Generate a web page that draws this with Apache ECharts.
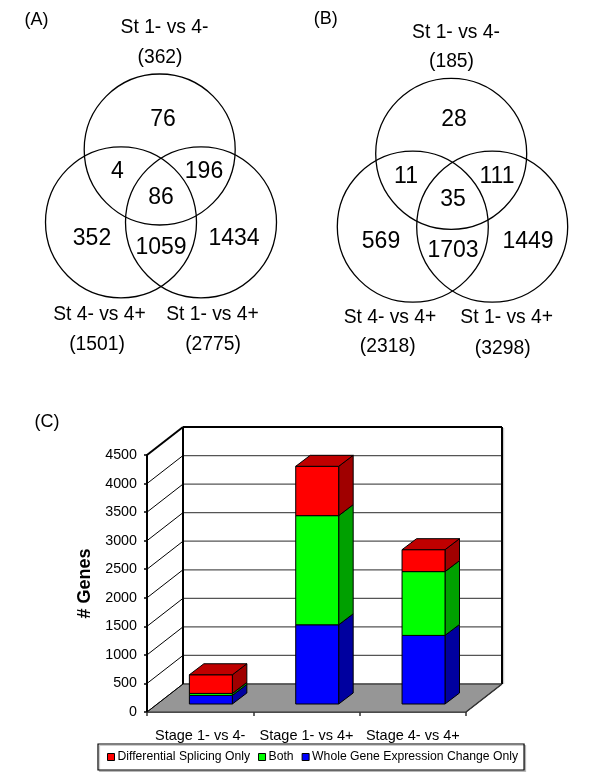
<!DOCTYPE html>
<html>
<head>
<meta charset="utf-8">
<style>html,body{margin:0;padding:0;background:#fff}#main{width:600px;height:780px}</style>
<script src="https://cdn.jsdelivr.net/npm/echarts@6/dist/echarts.min.js"></script>
</head>
<body>
<div id="main"></div>
<script>
// stacked chart (C)
var categories = ['Stage 1- vs 4-', 'Stage 1- vs 4+', 'Stage 4- vs 4+'];
var wholeGene = [150, 1387, 1201];
var both = [35, 1911, 1117];
var splicing = [327, 864, 384];
var yTicks = [0, 500, 1000, 1500, 2000, 2500, 3000, 3500, 4000, 4500];

// venn panels (A) and (B)
var setNames = ['St 1- vs 4-', 'St 4- vs 4+', 'St 1- vs 4+'];
var totalsA = ['(362)', '(1501)', '(2775)'];
var totalsB = ['(185)', '(2318)', '(3298)'];
var regionsA = [76, 4, 196, 86, 352, 1059, 1434];
var regionsB = [28, 11, 111, 35, 569, 1703, 1449];

var FONT = '"Liberation Sans", Arial, sans-serif';

// pixel layout of the venn panels, in the page-sized hidden grid
var circlesA = [[159.7, 149.5], [121, 222.3], [201, 222.3]];
var circlesB = [[451.2, 153.8], [412.8, 226.7], [492.2, 226.7]];
var regionPosA = [[163, 120], [117.5, 172], [204, 172], [161, 197.5], [92, 238.5], [161, 247.5], [234, 238.5]];
var regionPosB = [[454, 120], [406, 177], [497, 177], [453, 200], [381, 242], [453, 250.7], [528, 242]];
var namePosA = [[164.5, 28], [99.5, 315], [212.5, 315]];
var namePosB = [[456, 33], [390, 317.7], [506.7, 317.7]];
var totalPosA = [[160, 58], [97, 345], [213, 345]];
var totalPosB = [[451.5, 62], [387.7, 346.7], [502.7, 348.3]];

var texts = [];
function addTexts(list, pos, size) {
    list.forEach(function (t, i) {
        texts.push({x: pos[i][0], y: pos[i][1], text: String(t), size: size});
    });
}
addTexts(regionsA, regionPosA, 23);
addTexts(regionsB, regionPosB, 23);
addTexts(setNames, namePosA, 19.3);
addTexts(setNames, namePosB, 19.3);
addTexts(totalsA, totalPosA, 19.3);
addTexts(totalsB, totalPosB, 19.3);
addTexts(['(A)', '(B)', '(C)'], [[36.5, 20], [325.8, 19], [47, 422]], 18);

// 3d look of the chart
var WALL_DX = 36, WALL_DY = -28;
var FLOOR_DX = 10.7, FLOOR_DY = -8;
var SIDE_DX = 14.5, SIDE_DY = -11;
var BAR_SHARE = 0.404;

function poly(points, fill, stroke) {
    return {
        type: 'polygon',
        shape: {points: points},
        style: {fill: fill, stroke: stroke || '#000', lineWidth: 1}
    };
}
function line(x1, y1, x2, y2, color, width) {
    return {
        type: 'line',
        shape: {x1: x1, y1: y1, x2: x2, y2: y2},
        style: {stroke: color, lineWidth: width}
    };
}

function barRenderer(front, side, top, isTop) {
    return function (params, api) {
        var c0 = api.coord([api.value(0), api.value(1)]);
        var c1 = api.coord([api.value(0), api.value(2)]);
        var w = api.size([1, 0])[0] * BAR_SHARE;
        var x0 = c0[0] - w / 2 + FLOOR_DX, x1 = x0 + w;
        var y0 = c0[1] + FLOOR_DY, y1 = c1[1] + FLOOR_DY;
        var kids = [
            poly([[x1, y0], [x1 + SIDE_DX, y0 + SIDE_DY], [x1 + SIDE_DX, y1 + SIDE_DY], [x1, y1]], side),
            poly([[x0, y0], [x1, y0], [x1, y1], [x0, y1]], front)
        ];
        if (isTop) {
            kids.push(poly([[x0, y1], [x1, y1], [x1 + SIDE_DX, y1 + SIDE_DY], [x0 + SIDE_DX, y1 + SIDE_DY]], top));
        }
        return {type: 'group', children: kids};
    };
}

function stackData(values, lows) {
    return values.map(function (v, i) {
        return [i, lows[i], lows[i] + v];
    });
}
var bothLow = wholeGene;
var splicingLow = wholeGene.map(function (v, i) { return v + both[i]; });
var zeros = wholeGene.map(function () { return 0; });

function barSeries(name, data, front, side, top, isTop) {
    return {
        name: name,
        type: 'custom',
        coordinateSystem: 'cartesian2d',
        xAxisIndex: 0,
        yAxisIndex: 0,
        clip: false,
        silent: true,
        z: 4,
        itemStyle: {color: front},
        encode: {x: 0, y: [1, 2]},
        data: data,
        renderItem: barRenderer(front, side, top, isTop)
    };
}

var chart = echarts.init(document.getElementById('main'), null, {renderer: 'canvas'});
chart.setOption({
    animation: false,
    backgroundColor: '#fff',
    legend: {
        data: ['Differential Splicing Only', 'Both', 'Whole Gene Expression Change Only'],
        left: 98,
        top: 744,
        padding: [7, 6, 7, 9],
        itemWidth: 7,
        itemHeight: 7,
        itemGap: 8,
        icon: 'rect',
        selectedMode: false,
        backgroundColor: '#fff',
        borderColor: '#000',
        borderWidth: 1.2,
        shadowColor: 'rgba(0,0,0,0.2)',
        shadowOffsetX: 1.5,
        shadowOffsetY: 1.5,
        itemStyle: {borderColor: '#000', borderWidth: 1},
        textStyle: {fontFamily: FONT, fontSize: 12.2, color: '#000', padding: [0, 0, 0, -2]}
    },
    grid: [
        {left: 147, top: 455, width: 319, height: 257},
        {left: 0, top: 0, width: 600, height: 780, show: false}
    ],
    xAxis: [
        {
            type: 'category',
            gridIndex: 0,
            data: categories,
            axisLine: {lineStyle: {color: '#333', width: 1.5}},
            axisTick: {show: true, length: 4, lineStyle: {color: '#333', width: 1.5}},
            axisLabel: {fontFamily: FONT, fontSize: 14.5, color: '#000', margin: 16, interval: 0},
            splitLine: {show: false}
        },
        {type: 'value', gridIndex: 1, min: 0, max: 600, show: false}
    ],
    yAxis: [
        {
            type: 'value',
            gridIndex: 0,
            min: 0,
            max: 4500,
            interval: 500,
            name: '# Genes',
            nameLocation: 'middle',
            nameRotate: 90,
            nameGap: 53,
            nameTextStyle: {fontFamily: FONT, fontSize: 18, fontWeight: 'bold', color: '#000'},
            axisLine: {show: true, lineStyle: {color: '#000', width: 2}},
            axisTick: {show: true, length: 3, lineStyle: {color: '#000', width: 1.5}},
            axisLabel: {
                fontFamily: FONT,
                fontSize: 14.3,
                color: '#000',
                margin: 10,
                padding: [5, 0, 0, 0],
                formatter: function (v) { return String(v); }
            },
            splitLine: {show: false}
        },
        {type: 'value', gridIndex: 1, min: 0, max: 780, inverse: true, show: false}
    ],
    series: [
        {
            // floor
            type: 'custom',
            xAxisIndex: 0,
            yAxisIndex: 0,
            clip: false,
            silent: true,
            z: 1,
            data: [[0, 0]],
            renderItem: function (params, api) {
                var s = params.coordSys;
                var bottom = api.coord([0, 0])[1];
                return poly([
                    [s.x, bottom],
                    [s.x + s.width, bottom],
                    [s.x + s.width + WALL_DX, bottom + WALL_DY],
                    [s.x + WALL_DX, bottom + WALL_DY]
                ], '#969696', '#333');
            }
        },
        {
            // side wall diagonals and back wall gridlines
            type: 'custom',
            xAxisIndex: 0,
            yAxisIndex: 0,
            clip: false,
            silent: true,
            z: 2,
            data: yTicks.map(function (t) { return [0, t]; }),
            renderItem: function (params, api) {
                var s = params.coordSys;
                var y = api.coord([0, api.value(1)])[1];
                var last = params.dataIndex === yTicks.length - 1;
                var bx = s.x + WALL_DX, by = y + WALL_DY;
                return {
                    type: 'group',
                    children: [
                        line(s.x, y, bx, by, '#000', last ? 2 : 1),
                        line(bx, by, bx + s.width, by, last ? '#000' : '#555', last ? 2 : 1.3)
                    ]
                };
            }
        },
        {
            // back wall verticals
            type: 'custom',
            xAxisIndex: 0,
            yAxisIndex: 0,
            clip: false,
            silent: true,
            z: 3,
            data: [[0, 0]],
            renderItem: function (params, api) {
                var s = params.coordSys;
                var bottom = api.coord([0, 0])[1] + WALL_DY;
                var top = api.coord([0, yTicks[yTicks.length - 1]])[1] + WALL_DY;
                var lx = s.x + WALL_DX, rx = lx + s.width;
                return {
                    type: 'group',
                    children: [
                        line(rx + 1.5, top + 1, rx + 1.5, bottom, '#ccc', 1.5),
                        line(lx, top, lx, bottom, '#000', 2),
                        line(rx, top, rx, bottom, '#000', 2),
                        line(s.x + s.width, bottom - WALL_DY, rx, bottom, '#333', 1.5)
                    ]
                };
            }
        },
        barSeries('Whole Gene Expression Change Only', stackData(wholeGene, zeros), '#0000ff', '#00009f', '#0000bf', false),
        barSeries('Both', stackData(both, bothLow), '#00ff00', '#00a000', '#00bf00', false),
        barSeries('Differential Splicing Only', stackData(splicing, splicingLow), '#ff0000', '#a00000', '#bf0000', true),
        {
            // venn circles
            type: 'custom',
            xAxisIndex: 1,
            yAxisIndex: 1,
            silent: true,
            z: 5,
            data: circlesA.concat(circlesB),
            renderItem: function (params, api) {
                var c = api.coord([api.value(0), api.value(1)]);
                return {
                    type: 'circle',
                    shape: {cx: c[0], cy: c[1], r: api.size([75.5, 0])[0]},
                    style: {fill: 'none', stroke: '#000', lineWidth: 1.3}
                };
            }
        },
        {
            // venn counts, set names and panel letters
            type: 'custom',
            xAxisIndex: 1,
            yAxisIndex: 1,
            silent: true,
            z: 6,
            data: texts.map(function (t) { return [t.x, t.y]; }),
            renderItem: function (params, api) {
                var c = api.coord([api.value(0), api.value(1)]);
                var t = texts[params.dataIndex];
                return {
                    type: 'text',
                    x: c[0],
                    y: c[1],
                    style: {
                        text: t.text,
                        fontFamily: FONT,
                        fontSize: t.size,
                        fill: '#000',
                        align: 'center',
                        verticalAlign: 'middle'
                    }
                };
            }
        }
    ]
});
</script>
</body>
</html>
